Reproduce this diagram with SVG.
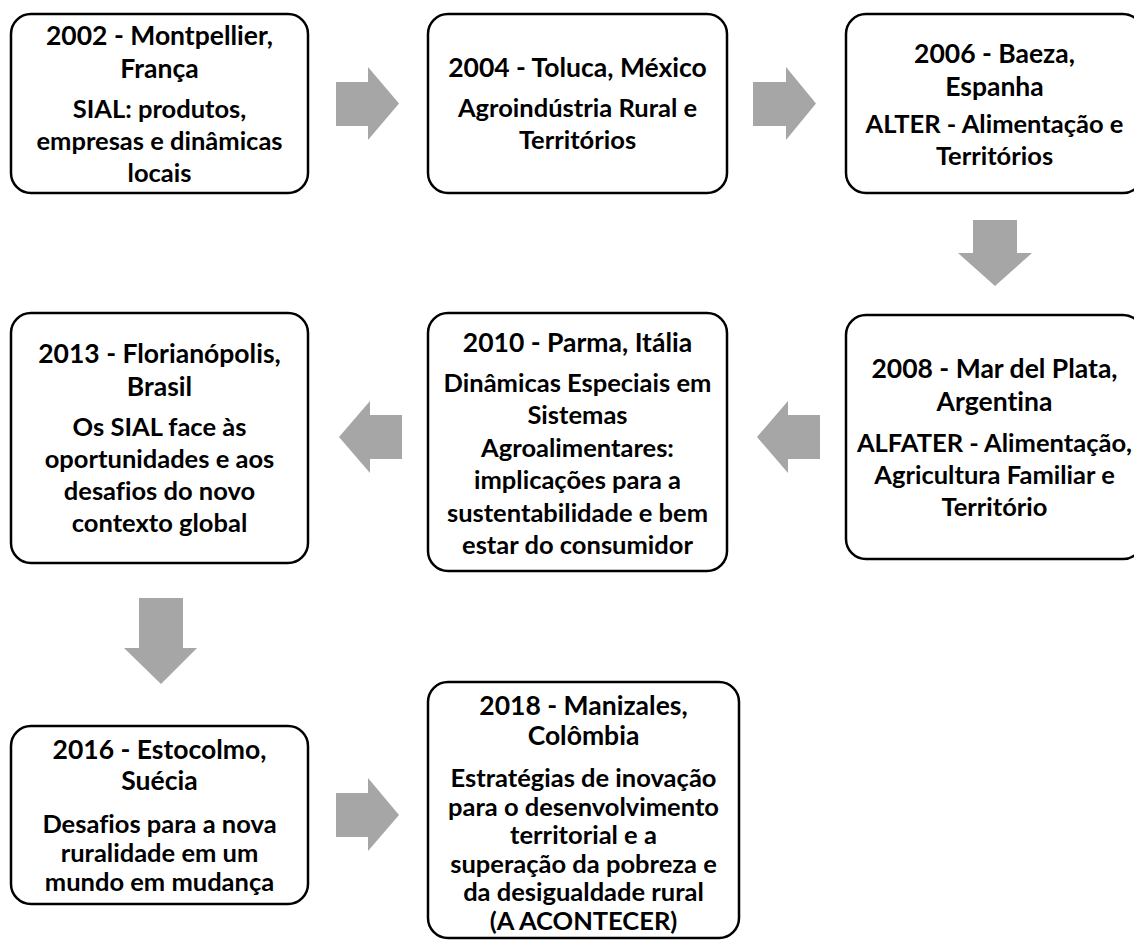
<svg xmlns="http://www.w3.org/2000/svg" width="1134" height="941" viewBox="0 0 1134 941">
<style>
.box{fill:#ffffff;stroke:#000000;stroke-width:2.5}
.arr{fill:#a6a6a6;stroke:none}
text{font-family:Lato,"Open Sans","Liberation Sans",sans-serif;font-weight:700;fill:#000000;text-anchor:middle;font-variant-ligatures:none;font-feature-settings:"liga" 0}
.t{font-size:26.5px}
.b{font-size:25.5px}
</style>
<rect width="1134" height="941" fill="#ffffff"/>
<g id="connectors">
<polygon class="arr" points="336,82 368,82 368,67 399,103.5 368,140 368,126 336,126"/>
<polygon class="arr" points="753,82 786,82 786,67 816,103.5 786,140 786,126 753,126"/>
<polygon class="arr" points="973,220 1017,220 1017,253 1032,253 995,286 958,253 973,253"/>
<polygon class="arr" points="820,415 788,415 788,401 757,437 788,473 788,459 820,459"/>
<polygon class="arr" points="402,415 370,415 370,401 339,437 370,473 370,459 402,459"/>
<polygon class="arr" points="139,598 183,598 183,648 197,648 161,684 124,648 139,648"/>
<polygon class="arr" points="336,793 368,793 368,778 399,815 368,851 368,837 336,837"/>
</g>
<g id="n2002">
<rect class="box" x="11" y="14" width="297" height="179" rx="20"/>
<text class="t" x="159.5" y="44.5">2002 - Montpellier,</text>
<text class="t" x="159.5" y="77.5">França</text>
<text class="b" x="159.5" y="117.5">SIAL: produtos,</text>
<text class="b" x="159.5" y="149.5">empresas e dinâmicas</text>
<text class="b" x="159.5" y="181.5">locais</text>
</g>
<g id="n2004">
<rect class="box" x="428" y="14" width="299" height="179" rx="20"/>
<text class="t" x="577.5" y="77">2004 - Toluca, México</text>
<text class="b" x="577.5" y="117">Agroindústria Rural e</text>
<text class="b" x="577.5" y="149">Territórios</text>
</g>
<g id="n2006">
<rect class="box" x="846" y="14" width="297" height="179" rx="20"/>
<text class="t" x="994.5" y="63">2006 - Baeza,</text>
<text class="t" x="994.5" y="96">Espanha</text>
<text class="b" x="994.5" y="133">ALTER - Alimentação e</text>
<text class="b" x="994.5" y="165">Territórios</text>
</g>
<g id="n2008">
<rect class="box" x="846" y="315" width="297" height="244" rx="20"/>
<text class="t" x="994.5" y="378">2008 - Mar del Plata,</text>
<text class="t" x="994.5" y="411">Argentina</text>
<text class="b" x="994.5" y="452">ALFATER - Alimentação,</text>
<text class="b" x="994.5" y="484">Agricultura Familiar e</text>
<text class="b" x="994.5" y="516">Território</text>
</g>
<g id="n2010">
<rect class="box" x="428" y="313" width="299" height="258" rx="20"/>
<text class="t" x="577.5" y="351.5">2010 - Parma, Itália</text>
<text class="b" x="577.5" y="391.5">Dinâmicas Especiais em</text>
<text class="b" x="577.5" y="424">Sistemas</text>
<text class="b" x="577.5" y="456.5">Agroalimentares:</text>
<text class="b" x="577.5" y="489">implicações para a</text>
<text class="b" x="577.5" y="521.5">sustentabilidade e bem</text>
<text class="b" x="577.5" y="554">estar do consumidor</text>
</g>
<g id="n2013">
<rect class="box" x="11" y="313" width="297" height="250" rx="20"/>
<text class="t" x="159.5" y="363">2013 - Florianópolis,</text>
<text class="t" x="159.5" y="396">Brasil</text>
<text class="b" x="159.5" y="436">Os SIAL face às</text>
<text class="b" x="159.5" y="468">oportunidades e aos</text>
<text class="b" x="159.5" y="500">desafios do novo</text>
<text class="b" x="159.5" y="532">contexto global</text>
</g>
<g id="n2016">
<rect class="box" x="11" y="726" width="297" height="178" rx="20"/>
<text class="t" x="159.5" y="759">2016 - Estocolmo,</text>
<text class="t" x="159.5" y="790">Suécia</text>
<text class="b" x="159.5" y="833">Desafios para a nova</text>
<text class="b" x="159.5" y="862">ruralidade em um</text>
<text class="b" x="159.5" y="891">mundo em mudança</text>
</g>
<g id="n2018">
<rect class="box" x="428" y="682" width="311" height="256" rx="20"/>
<text class="t" x="583.5" y="715">2018 - Manizales,</text>
<text class="t" x="583.5" y="745">Colômbia</text>
<text class="b" x="583.5" y="787">Estratégias de inovação</text>
<text class="b" x="583.5" y="815.5">para o desenvolvimento</text>
<text class="b" x="583.5" y="844">territorial e a</text>
<text class="b" x="583.5" y="872.5">superação da pobreza e</text>
<text class="b" x="583.5" y="901">da desigualdade rural</text>
<text class="b" x="583.5" y="929.5">(A ACONTECER)</text>
</g>
</svg>
